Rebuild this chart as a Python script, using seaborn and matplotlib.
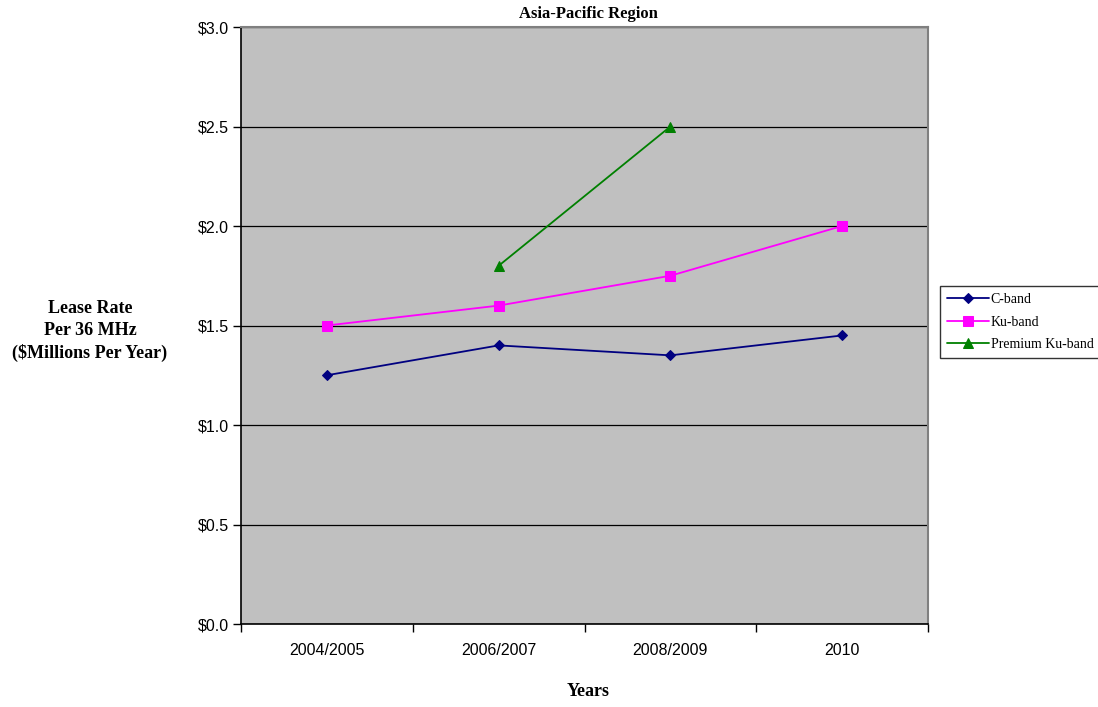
import matplotlib
matplotlib.use("Agg")
import matplotlib.pyplot as plt
import seaborn as sns
import numpy as np
import pandas as pd
from matplotlib.ticker import FuncFormatter

categories = ["2004/2005", "2006/2007", "2008/2009", "2010"]
c_band = [1.25, 1.40, 1.35, 1.45]
ku_band = [1.50, 1.60, 1.75, 2.00]
premium_ku = [np.nan, 1.80, 2.50, np.nan]
series_names = ["C-band", "Ku-band", "Premium Ku-band"]
y_ticks = [0.0, 0.5, 1.0, 1.5, 2.0, 2.5, 3.0]

sns.set_theme(style="white")
plt.rcParams['font.family'] = ['Liberation Sans', 'DejaVu Sans']
plt.rcParams['text.color'] = 'black'
plt.rcParams['axes.labelcolor'] = 'black'
plt.rcParams['xtick.color'] = 'black'
plt.rcParams['ytick.color'] = 'black'

fig = plt.figure(figsize=(10.98, 7.07), dpi=100)
ax = fig.add_axes([241/1098, 1-624/707, (928-241)/1098, (624-27)/707])
ax.set_facecolor("#C0C0C0")

df = pd.DataFrame({
    "x": list(range(len(categories))) * 3,
    "value": c_band + ku_band + premium_ku,
    "series": [series_names[0]]*4 + [series_names[1]]*4 + [series_names[2]]*4,
})
colors = {"C-band": "#000080", "Ku-band": "#FF00FF", "Premium Ku-band": "#008000"}
markers = {"C-band": "D", "Ku-band": "s", "Premium Ku-band": "^"}
msizes = {"C-band": 5.5, "Ku-band": 7, "Premium Ku-band": 7.5}

for name in series_names:
    sub = df[df["series"] == name].dropna()
    sns.lineplot(data=sub, x="x", y="value", ax=ax, color=colors[name],
                 marker=markers[name], markersize=msizes[name],
                 markeredgecolor=colors[name], linewidth=1.3, label=name,
                 legend=False, zorder=3)

ax.set_xlim(-0.5, len(categories) - 0.5)
ax.set_ylim(0, 3.0)
ax.set_yticks(y_ticks)
ax.yaxis.set_major_formatter(FuncFormatter(lambda v, p: f"${v:.1f}"))
ax.grid(axis="y", color="black", linewidth=0.9, zorder=1)
ax.set_axisbelow(True)

ax.set_xticks(range(len(categories)))
ax.set_xticklabels(categories)
ax.set_xticks(np.arange(-0.5, len(categories), 1.0), minor=True)
ax.tick_params(axis="x", which="major", length=0, pad=14, labelsize=11.5, colors="black",
               bottom=True)
ax.tick_params(axis="x", which="minor", length=6, width=1, color="black", direction="out",
               bottom=True)
ax.tick_params(axis="y", which="major", length=6, width=1, color="black", direction="out",
               labelsize=11.5, pad=3, left=True, labelcolor="black")

for s in ["left", "bottom"]:
    ax.spines[s].set_color("black")
    ax.spines[s].set_linewidth(1.2)
for s in ["top", "right"]:
    ax.spines[s].set_color("#808080")
    ax.spines[s].set_linewidth(1.5)
    ax.spines[s].set_visible(True)

ax.set_xlabel("")
ax.set_ylabel("")
serif = ['Liberation Serif', 'DejaVu Serif']
fig.text(588/1098, 1-14/707, "Asia-Pacific Region", ha="center", va="center",
         fontsize=12, fontweight="bold", family=serif, color="black")
fig.text(588/1098, 1-691/707, "Years", ha="center", va="center",
         fontsize=13, fontweight="bold", family=serif, color="black")
fig.text(90/1098, 1-331/707, "Lease Rate\nPer 36 MHz\n($Millions Per Year)", ha="center",
         va="center", fontsize=13, fontweight="bold", family=serif, linespacing=1.35,
         color="black")

handles, labels = ax.get_legend_handles_labels()
leg = fig.legend(handles, labels, loc="center left", bbox_to_anchor=(940/1098, 1-322/707),
                 frameon=True, fancybox=False, edgecolor="black",
                 prop={'family': serif, 'size': 10}, handlelength=3.0, borderpad=0.5,
                 labelspacing=0.7, handletextpad=0.15, borderaxespad=0)
leg.get_frame().set_linewidth(1.0)
for t in leg.get_texts():
    t.set_color("black")

fig.savefig("out.png", dpi=100)
